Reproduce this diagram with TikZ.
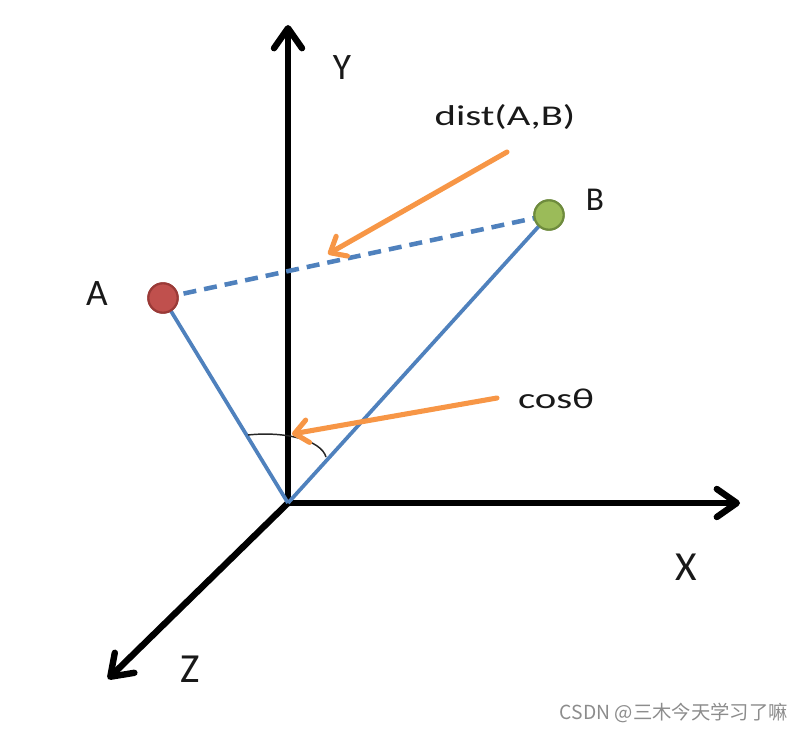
\documentclass[tikz,border=0pt]{standalone}
\usepackage{fontspec}
\setmainfont{Carlito}
\newfontfamily\cjk{Noto Sans CJK SC}
\usetikzlibrary{arrows.meta}
\definecolor{lineblue}{HTML}{4F81BD}
\definecolor{ptred}{HTML}{C0504D}
\definecolor{ptredd}{HTML}{9A3A37}
\definecolor{ptgreen}{HTML}{9BBB59}
\definecolor{ptgreend}{HTML}{6E8B3D}
\definecolor{pointer}{HTML}{F79646}
\tikzset{
  axisline/.style={line width=4.8pt, black, line cap=round,
    -{Straight Barb[length=15pt,width=21pt,round]}},
  vecline/.style={line width=2.8pt, lineblue},
  distline/.style={line width=3.4pt, lineblue, dash pattern=on 9.75pt off 6pt},
  pointerarrow/.style={line width=3.8pt, pointer, line cap=round,
    -{Straight Barb[length=10pt,width=17pt,round]}},
  ptnode/.style={circle, minimum size=22pt, inner sep=0pt, line width=1.6pt},
  biglbl/.style={anchor=base, inner sep=0pt, text=black!90},
  widelbl/.style={anchor=base, inner sep=0pt, text=black!90, xscale=1.42, font=\fontsize{21.5}{26}\selectfont},
}
\begin{document}
\begin{tikzpicture}[x=0.75pt,y=-0.75pt]
\useasboundingbox (0,0) rectangle (803,731);
% axes
\coordinate (O) at (288,503);
\coordinate (yend) at (288,25);
\coordinate (xend) at (740,503);
\coordinate (zend) at (108,679);
\draw[axisline] (O) -- (yend);
\draw[axisline] (O) -- (xend);
\draw[axisline] (O) -- (zend);
% points
\node[ptnode, fill=ptred, draw=ptredd] (A) at (163,298) {};
\node[ptnode, fill=ptgreen, draw=ptgreend] (B) at (549,215) {};
% vectors
\draw[vecline] (O) -- (A.center);
\draw[vecline] (O) -- (B.center);
\draw[distline] (A.center) -- (B.center);
\node[ptnode, fill=ptred, draw=ptredd] at (A) {};
\node[ptnode, fill=ptgreen, draw=ptgreend] at (B) {};
% angle arc
\coordinate (arcs) at (248,435);
\coordinate (arce) at (326,457);
\draw[line width=1.1pt, black!85] (arcs) .. controls (285,431) and (321,440) .. (arce);
% labels
\node[biglbl, font=\fontsize{28}{32}\selectfont] (ly) at (342,80) {Y};
\node[biglbl, font=\fontsize{31}{36}\selectfont] (lx) at (686,580) {X};
\node[biglbl, font=\fontsize{31}{36}\selectfont] (lz) at (190,682) {Z};
\node[biglbl, font=\fontsize{28}{32}\selectfont] (la) at (97,305) {A};
\node[biglbl, font=\fontsize{25}{29}\selectfont] (lb) at (595,210) {B};
\node[widelbl] (ldist) at (505,126) {dist(A,B)};
\node[widelbl] (lcos) at (556,408) {cosθ};
% pointers
\coordinate (dtail) at (507,152);
\coordinate (dtip) at (328,254);
\coordinate (ctail) at (497,398);
\coordinate (ctip) at (292,434);
\draw[pointerarrow] (dtail) -- (dtip);
\draw[pointerarrow] (ctail) -- (ctip);
% watermark
\node[anchor=base east, inner sep=0pt, text=black!45, font=\cjk\fontsize{14.5}{17}\selectfont] (wm) at (788,719) {CSDN @三木今天学习了嘛};
\end{tikzpicture}
\end{document}
